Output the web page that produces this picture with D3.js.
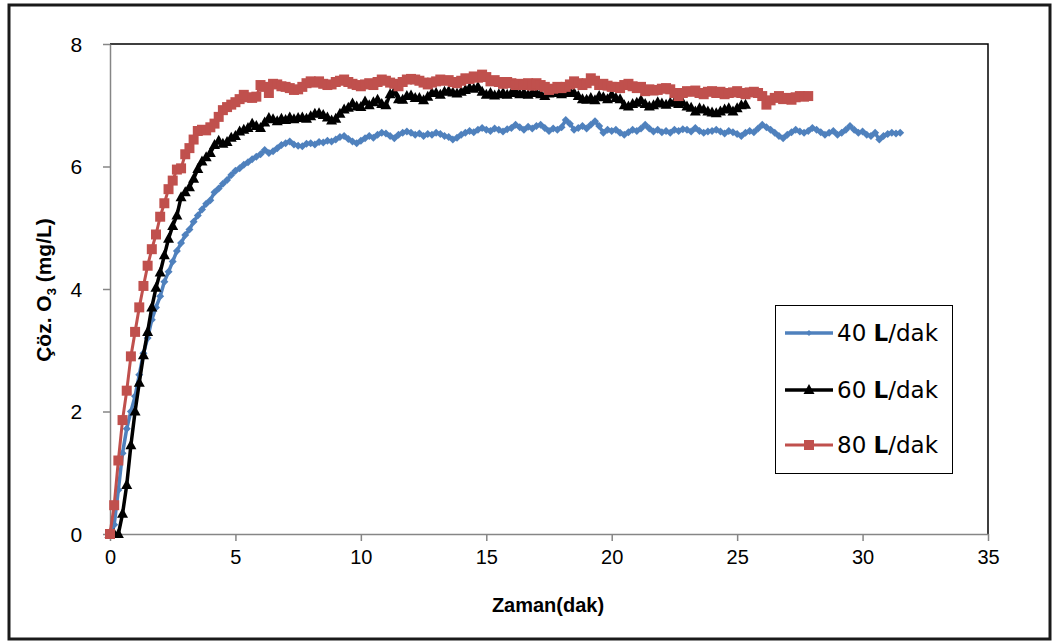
<!DOCTYPE html>
<html>
<head>
<meta charset="utf-8">
<script src="https://cdn.jsdelivr.net/npm/d3@7"></script>
<style>
body { margin: 0; background: #fff; }
text { font-family: "Liberation Sans", Arial, sans-serif; }
</style>
</head>
<body>
<svg id="chart" width="1054" height="642"></svg>
<script>
// sampling interval (min) — one reading every 10 s
var step = 1 / 6;

var xTicks = [0, 5, 10, 15, 20, 25, 30, 35];
var yTicks = [0, 2, 4, 6, 8];
var seriesNames = ["40", "60", "80"];

// 40 L/dak
var o3_40 = [
  0, 0.15, 0.72, 1.32, 1.72, 2.0,
  2.25, 2.6, 2.95, 3.2, 3.5, 3.7,
  3.88, 4.12, 4.28, 4.45, 4.62, 4.75,
  4.88, 4.97, 5.1, 5.2, 5.3, 5.39,
  5.45, 5.58, 5.64, 5.72, 5.78, 5.86,
  5.93, 5.97, 6.03, 6.07, 6.12, 6.16,
  6.2, 6.27, 6.22, 6.25, 6.3, 6.35,
  6.38, 6.41, 6.36, 6.34, 6.33, 6.37,
  6.38, 6.36, 6.4, 6.39, 6.42, 6.41,
  6.44, 6.48, 6.5, 6.45, 6.41, 6.38,
  6.42, 6.46, 6.5, 6.47, 6.52, 6.55,
  6.54, 6.5, 6.46, 6.52, 6.55, 6.57,
  6.55, 6.52, 6.54, 6.5, 6.53, 6.52,
  6.55, 6.53, 6.5, 6.48, 6.44, 6.47,
  6.52, 6.55, 6.58, 6.56, 6.6, 6.63,
  6.6, 6.58, 6.62, 6.6, 6.57, 6.61,
  6.63, 6.68, 6.64, 6.6, 6.65, 6.62,
  6.66, 6.68, 6.63, 6.58, 6.62, 6.6,
  6.64, 6.76, 6.7, 6.6, 6.63, 6.66,
  6.62, 6.68, 6.74, 6.66, 6.55, 6.6,
  6.58, 6.6, 6.55, 6.52, 6.56, 6.6,
  6.58, 6.62, 6.68, 6.62, 6.57, 6.6,
  6.56, 6.58, 6.55, 6.6, 6.58, 6.61,
  6.6, 6.57, 6.63, 6.58, 6.55, 6.57,
  6.58, 6.6, 6.57, 6.54, 6.58, 6.56,
  6.53, 6.5, 6.55, 6.58, 6.56, 6.62,
  6.68, 6.64, 6.6, 6.55, 6.5, 6.46,
  6.52, 6.56, 6.6, 6.57, 6.55, 6.58,
  6.63, 6.6, 6.56, 6.52, 6.55, 6.58,
  6.52, 6.55, 6.6, 6.66, 6.6, 6.55,
  6.57, 6.52, 6.5, 6.55, 6.44, 6.5,
  6.53, 6.55, 6.54, 6.55
];

// 60 L/dak
var o3_60 = [
  0, 0, 0, 0.33, 0.8, 1.45,
  2.0, 2.47, 2.92, 3.3, 3.7, 4.02,
  4.27, 4.55, 4.82, 5.03, 5.2, 5.5,
  5.58, 5.66, 5.8, 5.96, 6.08, 6.15,
  6.22, 6.35, 6.42, 6.37, 6.4, 6.47,
  6.5, 6.57, 6.6, 6.63, 6.7, 6.66,
  6.63, 6.72, 6.79, 6.77, 6.74, 6.78,
  6.76, 6.8, 6.77, 6.79, 6.8, 6.78,
  6.82, 6.86, 6.87, 6.84, 6.8, 6.75,
  6.78, 6.86, 6.93, 6.96, 7.03, 6.98,
  6.97, 7.06, 7.0, 7.05, 7.09, 7.02,
  7.0, 7.18, 7.22, 7.1, 7.09, 7.15,
  7.16, 7.12, 7.12, 7.08, 7.14, 7.2,
  7.2, 7.17, 7.22, 7.23, 7.21, 7.19,
  7.22, 7.25, 7.28, 7.27, 7.3, 7.22,
  7.17, 7.2, 7.16, 7.18, 7.2, 7.17,
  7.2, 7.22, 7.18, 7.2, 7.17, 7.2,
  7.2, 7.18, 7.15, 7.19, 7.22, 7.2,
  7.18, 7.2, 7.23, 7.2, 7.15, 7.1,
  7.09, 7.12, 7.08, 7.15, 7.13, 7.1,
  7.17, 7.12, 7.1, 7.0, 6.98, 7.02,
  7.04, 7.08, 7.02, 6.98, 7.0, 7.05,
  7.03, 7.01, 7.04, 7.05, 7.02, 7.04,
  6.98, 6.96, 6.9, 6.95, 6.93, 6.9,
  6.88, 6.87, 6.9, 6.93, 6.95, 6.9,
  6.95, 7.0, 7.01
];

// 80 L/dak
var o3_80 = [
  0, 0.47, 1.2, 1.86, 2.34, 2.9,
  3.3, 3.7, 4.05, 4.38, 4.65, 4.89,
  5.18, 5.4, 5.63, 5.77, 5.95, 5.97,
  6.2, 6.3, 6.44, 6.58, 6.6, 6.59,
  6.64, 6.7, 6.81, 6.92, 6.97, 7.01,
  7.05, 7.1, 7.17, 7.13, 7.12, 7.14,
  7.33, 7.3, 7.2, 7.35, 7.34, 7.31,
  7.3, 7.28, 7.25, 7.26, 7.3, 7.36,
  7.39, 7.37, 7.39, 7.35, 7.33, 7.34,
  7.38, 7.4, 7.42, 7.38, 7.35, 7.33,
  7.31, 7.34, 7.36, 7.33, 7.38, 7.42,
  7.4, 7.37, 7.35, 7.31, 7.38, 7.42,
  7.43, 7.42, 7.4, 7.37, 7.34, 7.37,
  7.39, 7.42, 7.4, 7.41, 7.38, 7.36,
  7.4, 7.44, 7.43, 7.47, 7.45, 7.5,
  7.46, 7.39, 7.41, 7.38, 7.35, 7.38,
  7.36, 7.33, 7.35, 7.33, 7.36, 7.32,
  7.36, 7.33, 7.3, 7.25, 7.27, 7.3,
  7.28, 7.3, 7.34, 7.39, 7.36, 7.33,
  7.36, 7.44, 7.4, 7.33, 7.35, 7.32,
  7.3, 7.3, 7.28, 7.33, 7.35, 7.31,
  7.28, 7.3, 7.23, 7.26, 7.24, 7.25,
  7.27, 7.28, 7.26, 7.2, 7.15, 7.2,
  7.23, 7.22, 7.24, 7.2, 7.18, 7.22,
  7.23, 7.2, 7.22, 7.18, 7.2, 7.21,
  7.23, 7.2, 7.18, 7.21, 7.22, 7.2,
  7.15, 7.01, 7.08, 7.12, 7.15, 7.1,
  7.12, 7.09, 7.13, 7.15, 7.14, 7.15
];

var svg = d3.select("#chart");
var plotLeft = 110, plotRight = 988, plotTop = 44, plotBottom = 534;

var x = d3.scaleLinear().domain([0, 35]).range([plotLeft, plotRight]);
var y = d3.scaleLinear().domain([0, 8]).range([plotBottom, plotTop]);

//outer frame
svg.append("rect").attr("x", 9).attr("y", 5).attr("width", 1041).attr("height", 634)
  .attr("fill", "none").attr("stroke", "#1a1a1a").attr("stroke-width", 3);

//plot box: top and right black
svg.append("path").attr("d", "M" + plotLeft + "," + plotTop + "H" + plotRight + "V" + plotBottom)
  .attr("fill", "none").attr("stroke", "#000").attr("stroke-width", 1.5);

var xAxis = svg.append("g").attr("transform", "translate(0," + plotBottom + ")")
  .call(d3.axisBottom(x).tickValues(xTicks).tickSize(7).tickSizeOuter(0));
var yAxis = svg.append("g").attr("transform", "translate(" + plotLeft + ",0)")
  .call(d3.axisLeft(y).tickValues(yTicks).tickSize(7).tickSizeOuter(0));
[xAxis, yAxis].forEach(function(a) {
  a.selectAll("path, line").attr("stroke", "#868686").attr("stroke-width", 1.5);
  a.selectAll("text").attr("fill", "#000").style("font-family", "Liberation Sans, Arial, sans-serif");
});
xAxis.selectAll("text").attr("font-size", 20).attr("dy", "1.0em");
yAxis.selectAll("text").attr("font-size", 21).attr("dx", "-0.85em").attr("dy", "0.35em");

//axis titles
svg.append("text").attr("x", 548).attr("y", 612).attr("text-anchor", "middle")
  .attr("font-size", 20).attr("font-weight", "bold").text("Zaman(dak)");
var yt = svg.append("text").attr("transform", "translate(51,290) rotate(-90)")
  .attr("text-anchor", "middle").attr("font-size", 21).attr("font-weight", "bold");
yt.append("tspan").text("Çöz. O");
yt.append("tspan").attr("font-size", 13).attr("dy", 5).text("3");
yt.append("tspan").attr("dy", -5).text(" (mg/L)");

var series = [
  { name: seriesNames[0], values: o3_40, color: "#4F81BD", width: 3.5, marker: "diamond", size: 8 },
  { name: seriesNames[1], values: o3_60, color: "#000000", width: 3.5, marker: "triangle", size: 10 },
  { name: seriesNames[2], values: o3_80, color: "#C0504D", width: 3, marker: "square", size: 10 }
];

function markerPath(type, s) {
  if (type === "square") return "M" + (-s / 2) + "," + (-s / 2) + "h" + s + "v" + s + "h" + (-s) + "Z";
  if (type === "triangle") return "M0," + (-s * 0.6) + "L" + (s * 0.55) + "," + (s * 0.4) + "L" + (-s * 0.55) + "," + (s * 0.4) + "Z";
  return "M0," + (-s / 2) + "L" + (s / 2) + ",0L0," + (s / 2) + "L" + (-s / 2) + ",0Z";
}

var line = d3.line().x(function(d, i) { return x(i * step); }).y(function(d) { return y(d); });

series.forEach(function(s) {
  var g = svg.append("g");
  g.append("path").datum(s.values).attr("d", line)
    .attr("fill", "none").attr("stroke", s.color).attr("stroke-width", s.width)
    .attr("stroke-linejoin", "round");
  g.selectAll("path.m").data(s.values).enter().append("path").attr("class", "m")
    .attr("transform", function(d, i) { return "translate(" + x(i * step) + "," + y(d) + ")"; })
    .attr("d", markerPath(s.marker, s.size)).attr("fill", s.color);
});

//legend
var lg = svg.append("g");
lg.append("rect").attr("x", 775.5).attr("y", 305.5).attr("width", 177).attr("height", 168)
  .attr("fill", "#fff").attr("stroke", "#000").attr("stroke-width", 1);
var legendY = [333, 390, 445];
series.forEach(function(s, i) {
  var ly = legendY[i];
  lg.append("line").attr("x1", 785).attr("x2", 833).attr("y1", ly).attr("y2", ly)
    .attr("stroke", s.color).attr("stroke-width", s.width);
  lg.append("path").attr("transform", "translate(809," + ly + ")")
    .attr("d", markerPath(s.marker, i === 0 ? 6 : s.size)).attr("fill", s.color);
  var t = lg.append("text").attr("x", 837).attr("y", ly + 8).attr("font-size", 23)
    .style("font-family", "DejaVu Sans, Verdana, sans-serif");
  t.append("tspan").text(s.name + " ");
  t.append("tspan").attr("font-weight", "bold").text("L");
  t.append("tspan").text("/dak");
});
</script>
</body>
</html>
